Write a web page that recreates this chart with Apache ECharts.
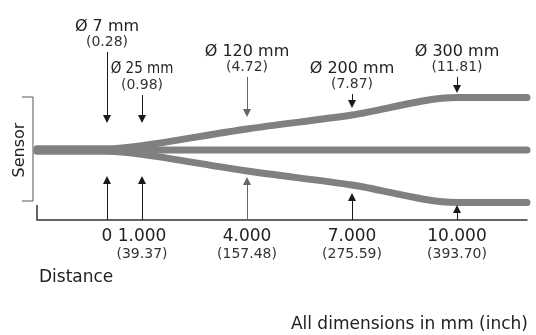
<!DOCTYPE html>
<html>
<head>
<meta charset="utf-8">
<script src="https://cdn.jsdelivr.net/npm/echarts@6/dist/echarts.min.js"></script>
<style>
  html, body { margin: 0; padding: 0; background: #fff; }
  #main { width: 536px; height: 335px; }
</style>
</head>
<body>
<div id="main"></div>
<script>
  // distances of the marked spots (mm) and their inch values
  var distances = [0, 1000, 4000, 7000, 10000];
  var distInch = ['', '39.37', '157.48', '275.59', '393.70'];

  // light spot diameters at those distances
  var spotMM = [7, 25, 120, 200, 300];
  var spotInch = ['0.28', '0.98', '4.72', '7.87', '11.81'];

  // beam outline: half of the spot diameter (mm) along the distance
  var beamX = [-2000, 0, 1000, 4000, 7000, 10000, 12000];
  var beamHalf = [3.5, 3.5, 12.5, 60, 100, 150, 150];

  // where the pointer arrows start / end (mm, drawing layout only)
  var topStart = [280, 157, 209, 160, 209];
  var topTip = [77, 77, 94, 120, 163];
  var bottomTip = [-74, -74, -77, -123, -157];

  var font = 'DejaVu Sans';
  var beamColor = '#808080';
  var headMM = 4 / 0.35;

  var chart = echarts.init(document.getElementById('main'), null, { renderer: 'canvas' });

  function beamData(sign) {
    return beamX.map(function (x, i) { return [x, sign * beamHalf[i]]; });
  }

  function arrowColor(i) {
    return distances[i] === 4000 ? '#666' : '#1a1a1a';
  }

  var topArrows = distances.map(function (d, i) {
    var main = i === 1 ? '{n|Ø 25 mm}' : '{a|Ø ' + spotMM[i] + ' mm}';
    return [
      {
        coord: [d, topStart[i]],
        lineStyle: { color: arrowColor(i) },
        itemStyle: { color: arrowColor(i) },
        label: { formatter: main + '\n{b|(' + spotInch[i] + ')}' }
      },
      { coord: [d, topTip[i] + headMM] }
    ];
  });

  var bottomArrows = distances.map(function (d, i) {
    return [
      { coord: [d, -200], lineStyle: { color: arrowColor(i) }, itemStyle: { color: arrowColor(i) }, label: { show: false } },
      { coord: [d, bottomTip[i] - headMM] }
    ];
  });

  var option = {
    animation: false,
    grid: { left: 37, right: 9, top: 10, bottom: 115 },
    xAxis: {
      type: 'value',
      min: -2000,
      max: 12000,
      splitLine: { show: false },
      axisTick: { show: false },
      axisLine: { show: true, onZero: false, lineStyle: { color: '#333', width: 1.5 } },
      axisLabel: {
        customValues: distances,
        margin: 8,
        formatter: function (v) {
          var i = distances.indexOf(v);
          if (v === 0) return '{a|0}';
          return '{a|' + (v / 1000).toFixed(3) + '}\n{b|(' + distInch[i] + ')}';
        },
        rich: {
          a: { fontFamily: font, fontSize: 17, lineHeight: 18, color: '#222' },
          b: { fontFamily: font, fontSize: 14, lineHeight: 16, color: '#333' }
        }
      }
    },
    yAxis: { type: 'value', min: -200, max: 400, show: false },
    series: [
      {
        type: 'line', data: beamData(1), smooth: 0.3, symbol: 'none', silent: true,
        lineStyle: { color: beamColor, width: 7, cap: 'round' }
      },
      {
        type: 'line', data: beamData(-1), smooth: 0.3, symbol: 'none', silent: true,
        lineStyle: { color: beamColor, width: 7, cap: 'round' }
      },
      {
        type: 'line', data: beamData(0), symbol: 'none', silent: true,
        lineStyle: { color: beamColor, width: 7, cap: 'round' },
        markLine: {
          silent: true,
          symbol: ['none', 'triangle'],
          symbolSize: 8,
          lineStyle: { type: 'solid', width: 1 },
          label: {
            position: 'start',
            distance: 2,
            rich: {
              a: { fontFamily: font, fontSize: 16, lineHeight: 17, color: '#222' },
              n: { fontFamily: "'DejaVu Sans Condensed', 'Liberation Sans Narrow'", fontSize: 15, lineHeight: 17, color: '#222' },
              b: { fontFamily: font, fontSize: 14, lineHeight: 15, color: '#333' }
            }
          },
          data: topArrows.concat(bottomArrows).concat([[
            { coord: [-2000, -200], symbol: 'none', lineStyle: { color: '#333', width: 1.5 }, label: { show: false } },
            { coord: [-2000, -157], symbol: 'none' }
          ]])
        }
      }
    ],
    graphic: [
      {
        type: 'polyline',
        shape: { points: [[22, 97], [33, 97], [33, 201], [22, 201]] },
        style: { stroke: '#555', lineWidth: 1, fill: null }
      },
      {
        type: 'text', x: 20, y: 150, rotation: Math.PI / 2,
        style: { text: 'Sensor', font: '16px "DejaVu Sans"', fill: '#222', align: 'center', verticalAlign: 'middle' }
      },
      {
        type: 'text', x: 39, y: 278,
        style: { text: 'Distance', font: '17px "DejaVu Sans"', fill: '#222', align: 'left', verticalAlign: 'middle' }
      },
      {
        type: 'text', x: 528, y: 325,
        style: { text: 'All dimensions in mm (inch)', font: '17px "DejaVu Sans"', fill: '#222', align: 'right', verticalAlign: 'middle' }
      }
    ]
  };

  chart.setOption(option);
  window.addEventListener('resize', chart.resize);
</script>
</body>
</html>
